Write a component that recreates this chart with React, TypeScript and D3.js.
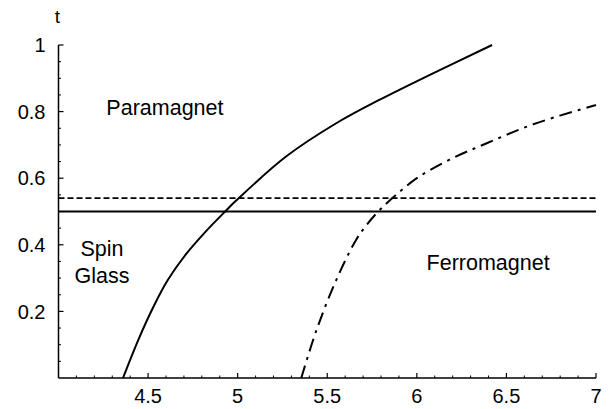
import React from "react";
import * as d3 from "d3";

// phase boundary
const solidX = [4.36, 4.445, 4.53, 4.61, 4.715, 4.82, 4.93, 4.99, 5.27, 5.55, 5.79, 6.09, 6.42];
const solidT = [0, 0.114, 0.214, 0.294, 0.374, 0.439, 0.5, 0.532, 0.665, 0.765, 0.835, 0.915, 1.0];

const dashDotX = [5.355, 5.44, 5.55, 5.66, 5.72, 5.79, 5.88, 6.0, 6.18, 6.39, 6.65, 7.0];
const dashDotT = [0, 0.144, 0.294, 0.414, 0.46, 0.503, 0.548, 0.6, 0.655, 0.705, 0.762, 0.82];

const solidLevel = 0.5;
const dashedLevel = 0.54;

const xTicks = [4.5, 5, 5.5, 6, 6.5, 7];
const xTickLabels = ["4.5", "5", "5.5", "6", "6.5", "7"];
const yTicks = [0.2, 0.4, 0.6, 0.8, 1];
const yTickLabels = ["0.2", "0.4", "0.6", "0.8", "1"];

const regions = [
  { lines: ["Paramagnet"], x: 4.594, t: 0.79 },
  { lines: ["Spin", "Glass"], x: 4.243, t: 0.366 },
  { lines: ["Ferromagnet"], x: 6.398, t: 0.324 },
];

const W = 616;
const H = 409;

export default function App() {
  const x = d3.scaleLinear().domain([4, 7]).range([58.5, 596]);
  const y = d3.scaleLinear().domain([0, 1]).range([378, 45]);

  const line = d3
    .line<[number, number]>()
    .x((d) => x(d[0]))
    .y((d) => y(d[1]))
    .curve(d3.curveCatmullRom.alpha(0.5));

  const solidPath = line(solidX.map((v, i) => [v, solidT[i]]));
  const dashDotPath = line(dashDotX.map((v, i) => [v, dashDotT[i]]));

  const xMinor = d3.range(41, 70).map((v) => v / 10).filter((v) => !xTicks.some((t) => Math.abs(t - v) < 1e-6));
  const yMinor = d3.range(1, 20).map((v) => v / 20).filter((v) => !yTicks.some((t) => Math.abs(t - v) < 1e-6));

  const font = "'Liberation Sans', Arial, Helvetica, sans-serif";

  return (
    <svg
      width={W}
      height={H}
      style={{ position: "absolute", left: 0, top: 0, background: "#fff" }}
      fontFamily={font}
    >
      {/* axes */}
      <line x1={x(4)} x2={x(7)} y1={y(0)} y2={y(0)} stroke="#000" strokeWidth={1.5} />
      <line x1={x(4)} x2={x(4)} y1={y(0)} y2={y(1)} stroke="#000" strokeWidth={1.5} />

      {xTicks.map((v) => (
        <line key={"xt" + v} x1={x(v)} x2={x(v)} y1={y(0)} y2={y(0) - 5} stroke="#000" strokeWidth={1.2} />
      ))}
      {xMinor.map((v) => (
        <line key={"xm" + v} x1={x(v)} x2={x(v)} y1={y(0)} y2={y(0) - 2.5} stroke="#000" strokeWidth={1} />
      ))}
      {yTicks.map((v) => (
        <line key={"yt" + v} x1={x(4)} x2={x(4) + 5} y1={y(v)} y2={y(v)} stroke="#000" strokeWidth={1.2} />
      ))}
      {yMinor.map((v) => (
        <line key={"ym" + v} x1={x(4)} x2={x(4) + 2.5} y1={y(v)} y2={y(v)} stroke="#000" strokeWidth={1} />
      ))}

      {xTicks.map((v, i) => (
        <text key={"xl" + v} x={x(v)} y={y(0) + 25} textAnchor="middle" fontSize={20}>
          {xTickLabels[i]}
        </text>
      ))}
      {yTicks.map((v, i) => (
        <text key={"yl" + v} x={x(4) - 13} y={y(v)} dy="0.36em" textAnchor="end" fontSize={20}>
          {yTickLabels[i]}
        </text>
      ))}
      <text x={x(4) - 1} y={23} textAnchor="middle" fontSize={19}>
        t
      </text>

      {/* horizontal boundaries */}
      <line x1={x(4)} x2={x(7)} y1={y(solidLevel)} y2={y(solidLevel)} stroke="#000" strokeWidth={1.8} />
      <line
        x1={x(4)}
        x2={x(7)}
        y1={y(dashedLevel)}
        y2={y(dashedLevel)}
        stroke="#000"
        strokeWidth={1.8}
        strokeDasharray="6,3"
      />

      {/* curves */}
      <path d={solidPath ?? ""} fill="none" stroke="#000" strokeWidth={2} />
      <path d={dashDotPath ?? ""} fill="none" stroke="#000" strokeWidth={2} strokeDasharray="13,6,3,6" />

      {regions.map((r) =>
        r.lines.map((s, j) => (
          <text
            key={s}
            x={x(r.x)}
            y={y(r.t) + j * 27}
            textAnchor="middle"
            fontSize={21.5}
          >
            {s}
          </text>
        ))
      )}
    </svg>
  );
}
